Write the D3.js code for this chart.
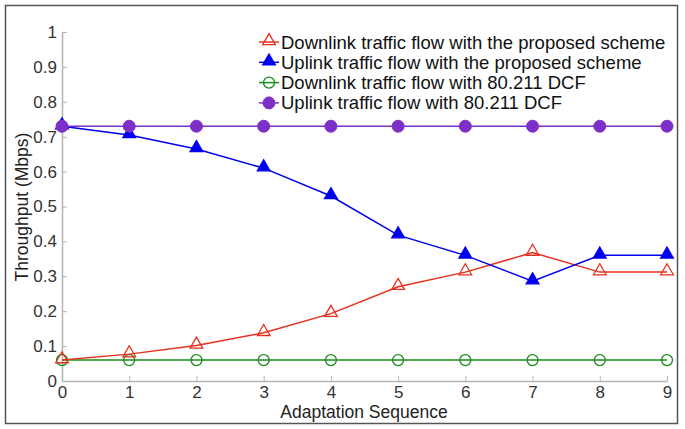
<!DOCTYPE html>
<html><head><meta charset="utf-8">
<script src="https://cdn.jsdelivr.net/npm/d3@7"></script>
<style>body{margin:0;background:#fff}svg{display:block}</style>
</head><body>
<svg id="c" width="685" height="429"></svg>
<script>
const xValues = [0,1,2,3,4,5,6,7,8,9];
const yTicks = [0,0.1,0.2,0.3,0.4,0.5,0.6,0.7,0.8,0.9,1];
const downProposed = [0.06,0.077,0.102,0.138,0.193,0.27,0.312,0.368,0.312,0.312];
const upProposed = [0.73,0.705,0.665,0.61,0.53,0.418,0.36,0.286,0.36,0.36];
const downDCF = [0.06,0.06,0.06,0.06,0.06,0.06,0.06,0.06,0.06,0.06];
const upDCF = [0.73,0.73,0.73,0.73,0.73,0.73,0.73,0.73,0.73,0.73];
const seriesNames = ["Downlink traffic flow with the proposed scheme","Uplink traffic flow with the proposed scheme","Downlink traffic flow with 80.211 DCF","Uplink traffic flow with 80.211 DCF"];

const series = [
  {name:seriesNames[0], vals:downProposed, color:"#e8301e", marker:"tri", fill:"none"},
  {name:seriesNames[1], vals:upProposed, color:"#0000f0", marker:"tri", fill:"#0000f0"},
  {name:seriesNames[2], vals:downDCF, color:"#1a8c1a", marker:"circ", fill:"none"},
  {name:seriesNames[3], vals:upDCF, color:"#7d2fc8", marker:"dot", fill:"#7d2fc8"}
];

const svg = d3.select("#c");
const font = "'Liberation Sans', Arial, sans-serif";
svg.append("rect").attr("x",5.5).attr("y",5.5).attr("width",672).attr("height",418)
  .attr("fill","#fff").attr("stroke","#555").attr("stroke-width",1.5);

const x = d3.scaleLinear().domain([0,9]).range([62,667]);
const y = d3.scaleLinear().domain([0,1]).range([381,32]);

const gx = svg.append("g").attr("transform","translate(0,381)")
  .call(d3.axisBottom(x).tickValues(xValues).tickFormat(d3.format("d")).tickSizeInner(-5).tickSizeOuter(0).tickPadding(5));
const gy = svg.append("g").attr("transform","translate(62,0)")
  .call(d3.axisLeft(y).tickValues(yTicks).tickFormat(d=>d===0?"0":(d===1?"1":d3.format(".1f")(d))).tickSizeInner(-5).tickSizeOuter(0).tickPadding(5));
[gx,gy].forEach(g=>{
  g.select(".domain").attr("stroke","#b4b4b4").attr("stroke-width",1.5);
  g.selectAll(".tick line").attr("stroke","#b4b4b4");
  g.selectAll(".tick text").attr("fill","#333").attr("font-family",font).attr("font-size",17);
});

svg.append("text").attr("x",364).attr("y",418).attr("text-anchor","middle")
  .attr("font-family",font).attr("font-size",17.5).attr("fill","#222").text("Adaptation Sequence");
svg.append("text").attr("transform","translate(28,207) rotate(-90)").attr("text-anchor","middle")
  .attr("font-family",font).attr("font-size",17.5).attr("fill","#222").text("Throughput (Mbps)");

const tri = d3.symbol().type(d3.symbolTriangle).size(70);
function drawMarker(g, s, cx, cy){
  if(s.marker==="tri"){
    g.append("path").attr("d",tri()).attr("transform",`translate(${cx},${cy-1})`)
      .attr("fill",s.fill).attr("stroke",s.color).attr("stroke-width",1.3);
  } else if(s.marker==="circ"){
    g.append("circle").attr("cx",cx).attr("cy",cy).attr("r",5.5)
      .attr("fill","none").attr("stroke",s.color).attr("stroke-width",1.3);
  } else {
    g.append("circle").attr("cx",cx).attr("cy",cy).attr("r",6)
      .attr("fill",s.fill).attr("stroke",s.color).attr("stroke-width",1);
  }
}

const line = d3.line().x((d,i)=>x(xValues[i])).y(d=>y(d));
const order = [2,0,1,3];
order.forEach(k=>{
  const s = series[k];
  const g = svg.append("g");
  g.append("path").datum(s.vals).attr("d",line).attr("fill","none").attr("stroke",s.color).attr("stroke-width",1.5);
  s.vals.forEach((v,i)=>drawMarker(g,s,x(xValues[i]),y(v)));
});

const lg = svg.append("g");
series.forEach((s,i)=>{
  const cy = 42 + i*20.3;
  lg.append("line").attr("x1",259).attr("x2",279).attr("y1",cy).attr("y2",cy).attr("stroke",s.color).attr("stroke-width",1.5);
  drawMarker(lg,s,269,cy);
  lg.append("text").attr("x",281).attr("y",cy+6.5).attr("font-family",font).attr("font-size",18.5).attr("fill","#111").text(s.name);
});
</script>
</body></html>
